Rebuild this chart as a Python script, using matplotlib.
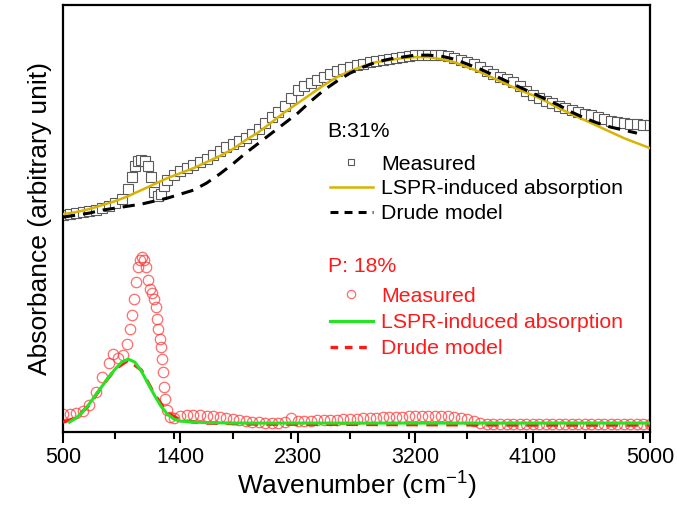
import matplotlib
matplotlib.use('Agg')
import matplotlib.pyplot as plt
from matplotlib.lines import Line2D
from matplotlib.ticker import MultipleLocator
import numpy as np

plt.rcParams['font.family'] = ['Liberation Sans', 'DejaVu Sans']
plt.rcParams['mathtext.default'] = 'regular'

# ---- B:31% (upper spectra), wavenumber in cm-1, absorbance in arbitrary units
b_meas_x = [500, 550, 600, 650, 700, 750, 800, 850, 900, 950,
            1000, 1025, 1050, 1075, 1100, 1125, 1150, 1175, 1200, 1225,
            1250, 1275, 1300, 1350, 1400, 1450, 1500, 1550, 1600, 1650,
            1700, 1750, 1800, 1850, 1900, 1950, 2000, 2050, 2100, 2150,
            2200, 2250, 2300, 2350, 2400, 2450, 2500, 2550, 2600, 2650,
            2700, 2750, 2800, 2850, 2900, 2950, 3000, 3050, 3100, 3150,
            3200, 3250, 3300, 3350, 3400, 3450, 3500, 3550, 3600, 3650,
            3700, 3750, 3800, 3850, 3900, 3950, 4000, 4050, 4100, 4150,
            4200, 4250, 4300, 4350, 4400, 4450, 4500, 4550, 4600, 4650,
            4700, 4750, 4800, 4850, 4900, 4950, 5000]
b_meas_y = [217, 218, 219, 220, 221, 222, 224, 226, 229, 233,
            243, 255, 266, 271, 272, 271, 266, 255, 240, 236,
            238, 246, 252, 257, 261, 264, 267, 270, 273, 277,
            281, 285, 288, 291, 294, 298, 303, 309, 315, 320,
            326, 334, 342, 346, 349, 352, 355, 358, 361, 363,
            365, 367, 368, 370, 371, 372, 373, 374, 375, 376,
            377, 377, 377, 377, 377, 376, 374, 372, 370, 368,
            365, 361, 358, 355, 353, 350, 346, 341, 337, 334,
            331, 329, 326, 324, 322, 320, 318, 317, 315, 313,
            311, 310, 309, 308, 308, 307, 307]

b_lspr_x = [500, 600, 700, 800, 900, 1000, 1100, 1200, 1300, 1400,
            1500, 1600, 1700, 1800, 1900, 2000, 2100, 2200, 2300, 2400,
            2500, 2600, 2700, 2800, 2900, 3000, 3100, 3200, 3300, 3400,
            3500, 3600, 3700, 3800, 3900, 4000, 4100, 4200, 4300, 4400,
            4500, 4600, 4700, 4800, 4900, 5000]
b_lspr_y = [218, 220, 223, 227, 231, 236, 242, 248, 254, 259,
            264, 270, 276, 283, 292, 300, 310, 320, 329, 338,
            347, 355, 361, 366, 370, 372, 374, 375, 375, 373,
            370, 365, 360, 354, 348, 342, 337, 331, 324, 318,
            312, 306, 300, 294, 289, 284]

b_drude_x = [500, 600, 700, 800, 900, 1000, 1100, 1200, 1300, 1400,
             1500, 1600, 1700, 1800, 1900, 2000, 2100, 2200, 2300, 2400,
             2500, 2600, 2700, 2800, 2900, 3000, 3100, 3200, 3300, 3400,
             3500, 3600, 3700, 3800, 3900, 4000, 4100, 4200, 4300, 4400,
             4500, 4600, 4700, 4800, 4900]
b_drude_y = [215, 217, 219, 222, 224, 226, 228, 231, 234, 238,
             242, 249, 258, 268, 279, 289, 299, 309, 319, 331,
             342, 351, 359, 365, 370, 373, 375, 377, 377, 376,
             373, 368, 363, 357, 351, 345, 339, 333, 327, 320,
             314, 309, 305, 302, 299]

# ---- P: 18% (lower spectra)
p_meas_x = [500, 550, 600, 650, 700, 750, 800, 850, 880, 920,
            960, 990, 1010, 1030, 1045, 1060, 1075, 1090, 1105, 1120,
            1135, 1150, 1165, 1180, 1195, 1210, 1220, 1230, 1240, 1250,
            1260, 1268, 1275, 1285, 1300, 1320, 1350, 1400, 1450, 1500,
            1550, 1600, 1650, 1700, 1750, 1800, 1850, 1900, 1950, 2000,
            2050, 2100, 2150, 2200, 2250, 2300, 2350, 2400, 2450, 2500,
            2550, 2600, 2650, 2700, 2750, 2800, 2850, 2900, 2950, 3000,
            3050, 3100, 3150, 3200, 3250, 3300, 3350, 3400, 3450, 3500,
            3550, 3600, 3650, 3700, 3750, 3800, 3850, 3900, 3950, 4000,
            4050, 4100, 4150, 4200, 4250, 4300, 4350, 4400, 4450, 4500,
            4550, 4600, 4650, 4700, 4750, 4800, 4850, 4900, 4950, 5000]
p_meas_y = [18, 18, 19, 21, 27, 40, 55, 69, 78, 74,
            77, 88, 103, 117, 133, 150, 165, 172, 175, 172,
            165, 152, 143, 139, 133, 125, 113, 103, 93, 85,
            73, 60, 45, 33, 22, 15, 14, 16, 17, 17,
            17, 16, 16, 15, 14, 13, 12, 11, 10, 10,
            9, 9, 9, 10, 14, 11, 11, 11, 12, 12,
            12, 12, 13, 13, 13, 14, 14, 14, 15, 15,
            15, 15, 16, 16, 16, 16, 16, 16, 16, 15,
            14, 13, 11, 9, 8, 8, 8, 8, 8, 8,
            8, 8, 8, 8, 8, 8, 8, 8, 8, 8,
            8, 8, 8, 8, 8, 8, 8, 8, 8, 8]

p_lspr_x = [550, 600, 650, 700, 750, 800, 850, 900, 950, 1000,
            1050, 1100, 1150, 1200, 1250, 1300, 1350, 1400, 1500, 1600,
            1800, 2200, 3000, 4000, 5000]
p_lspr_y = [10, 14, 20, 28, 37, 46, 55, 63, 70, 73,
            70, 61, 49, 37, 26, 18, 13, 11, 10, 9.5,
            9, 9, 9, 9, 9]

p_drude_x = [500, 600, 700, 800, 900, 1000, 1100, 1200, 1300, 1400,
             1500, 1600, 1800, 2000, 3000, 4000, 5000]
p_drude_y = [10, 14, 27, 46, 63, 72, 62, 38, 19, 12,
             10, 9, 8.5, 8, 7.5, 7, 7]

major_ticks = [500, 1400, 2300, 3200, 4100, 5000]
labels = ['Measured', 'LSPR-induced absorption', 'Drude model']

gold = '#d8b400'
red = '#ff1a1a'
green = '#22e622'

fig = plt.figure(figsize=(6.77, 5.15), dpi=100)
ax = fig.add_axes([0.0931, 0.161, 0.867, 0.829])

# upper set
ax.plot(b_meas_x, b_meas_y, 's', ms=6.5, mfc='white', mec='#5a5a5a', mew=0.8, zorder=2)
ax.plot(b_lspr_x, b_lspr_y, '-', color=gold, lw=1.8, zorder=3)
ax.plot(b_drude_x, b_drude_y, '--', color='black', lw=2.2, dashes=(4, 2.6), zorder=3)

# lower set
ax.plot(p_meas_x, p_meas_y, 'o', ms=7.5, mfc='none', mec='#ff3b3b', mew=0.9,
        alpha=0.75, zorder=2)
ax.plot(p_drude_x, p_drude_y, '--', color=red, lw=2.4, dashes=(3.5, 2.5), zorder=3)
ax.plot(p_lspr_x, p_lspr_y, '-', color=green, lw=2.2, zorder=4)

ax.set_xlim(500, 5000)
ax.set_ylim(0, 427)
ax.set_xticks(major_ticks)
ax.xaxis.set_minor_locator(MultipleLocator(450))
ax.set_yticks([])
ax.tick_params(axis='x', which='major', direction='out', length=8, width=1.5,
               labelsize=15.5, pad=3, top=False)
ax.tick_params(axis='x', which='minor', direction='out', length=5, width=1.5,
               top=False)
for s in ax.spines.values():
    s.set_linewidth(1.6)

ax.set_xlabel('Wavenumber (cm$^{-1}$)', fontsize=19, labelpad=1)
ax.set_ylabel('Absorbance (arbitrary unit)', fontsize=19, labelpad=8)

# legends
ax.text(0.451, 0.705, 'B:31%', transform=ax.transAxes, fontsize=15.3,
        ha='left', va='center')
h1 = [Line2D([], [], ls='none', marker='s', ms=5, mfc='white', mec='#5a5a5a', mew=0.8),
      Line2D([], [], color=gold, lw=1.8),
      Line2D([], [], color='black', lw=2.2, ls='--', dashes=(2.6, 2.0))]
leg1 = ax.legend(h1, labels, loc='upper left', bbox_to_anchor=(0.455, 0.65),
                 frameon=False, fontsize=15.3, handlelength=2.0,
                 handletextpad=0.4, labelspacing=0.27, borderpad=0,
                 borderaxespad=0)
ax.add_artist(leg1)

ax.text(0.451, 0.388, 'P: 18%', transform=ax.transAxes, fontsize=15.3,
        ha='left', va='center', color=red)
h2 = [Line2D([], [], ls='none', marker='o', ms=6, mfc='none', mec='#ff3b3b', mew=0.9, alpha=0.75),
      Line2D([], [], color=green, lw=2.2),
      Line2D([], [], color=red, lw=2.4, ls='--', dashes=(2.3, 2.0))]
leg2 = ax.legend(h2, labels, loc='upper left', bbox_to_anchor=(0.455, 0.34),
                 frameon=False, fontsize=15.3, handlelength=2.0,
                 handletextpad=0.4, labelspacing=0.34, borderpad=0,
                 borderaxespad=0, labelcolor=red)

fig.savefig('out.png', dpi=100)
